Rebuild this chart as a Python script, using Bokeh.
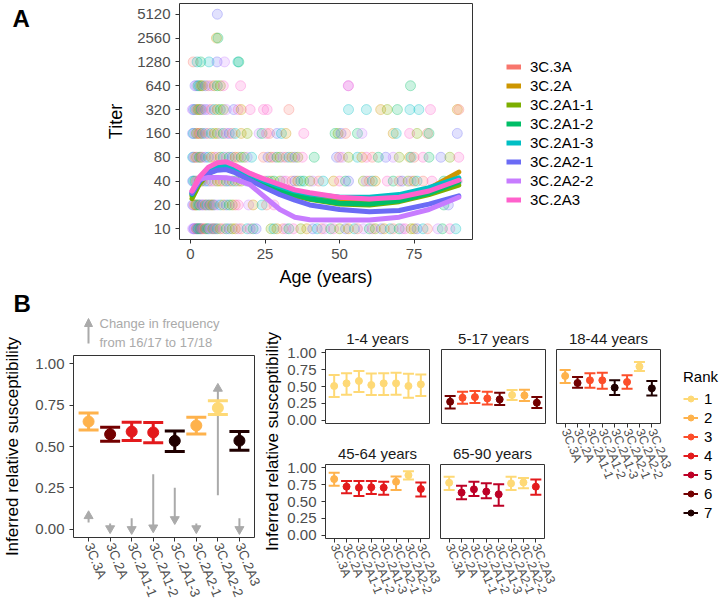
import math
from bokeh.plotting import figure
from bokeh.models import (Range1d, FactorRange, FixedTicker, NumeralTickFormatter, Legend,
                          LegendItem, Label, Arrow, NormalHead, ColumnDataSource)
from bokeh.embed import file_html
from bokeh.resources import INLINE

FONT = "Liberation Sans"

# ---------------- data ----------------
clades = ["3C.3A", "3C.2A", "3C.2A1-1", "3C.2A1-2", "3C.2A1-3", "3C.2A2-1", "3C.2A2-2", "3C.2A3"]
clade_colors = ["#F8766D", "#CD9600", "#7CAE00", "#00BE67", "#00BFC4", "#6B6BF5", "#C77CFF", "#FF61CC"]

titer_ticks = [10, 20, 40, 80, 160, 320, 640, 1280, 2560, 5120]
age_ticks = [0, 25, 50, 75]

# individual titers: ages per titer level and clade index (digits) per point
s10_age = [0.7, 1, 1.2, 1.5, 1.8, 2, 2.3, 2.6, 3, 3.3, 3.6, 4, 4.5, 5, 5.5, 6, 6.5, 7, 7.5, 8,
           8.5, 9, 10, 11, 12, 13, 14, 15, 16, 17, 19, 20, 21, 22, 27, 28, 29, 31, 32, 33,
           34.5, 37, 39, 41, 42.5, 44, 45, 47, 48, 50, 52, 53, 55, 56, 58, 60, 61, 62, 64, 65,
           67, 68, 70, 71, 72, 74, 75, 76, 78, 79.5, 83, 84.5, 87, 89]
s10_cl = "6656615342" "5071436625" "0417352160" "4735241063" "7215406372" "5140637251" "4036721540" "6374"
s20_age = [0.7, 1, 1.3, 1.7, 2, 2.5, 3, 3.5, 4, 4.5, 5, 5.5, 6, 6.5, 7, 7.5, 8, 9, 10, 11,
           12, 13, 14, 15, 16, 19.5, 21, 24, 25.5, 28, 85, 86.5]
s20_cl = "5602143756" "1473025641" "5320761407" "35"
s40_age = [0.7, 1, 1.5, 2, 2.5, 3, 3.5, 4, 5, 6, 7, 8, 9, 10, 11, 12, 13, 14, 15, 16,
           17, 19, 21, 23, 25, 26, 27, 28, 30, 31, 32, 34, 35, 36, 37, 38, 40, 41, 43, 44.5,
           48, 50, 52, 53, 58, 59, 60, 61, 62, 66, 68, 70, 71, 73, 74, 75, 76, 78, 81, 85, 89.5]
s40_cl = "5430612745" "0621735140" "2567041326" "7051432604" "1735260417" "3052614073" "6"
s80_age = [0.7, 1, 1.5, 2, 2.5, 3, 3.5, 4, 5, 6, 7, 8, 9, 10, 11, 12, 13, 14, 15, 16,
           17, 18, 19, 20.5, 24.5, 26, 27, 28, 29, 30, 31, 32, 33, 34, 35, 36, 37.5, 41.5, 49, 50,
           51, 53, 56, 57.5, 59, 61, 63, 65.5, 68, 70, 73.5, 74, 75, 78, 80, 84, 87, 90]
s80_cl = "4501632754" "1062473510" "3264051732" "6041527350" "6241703562" "14073527"
s160_age = [0.7, 1, 1.5, 2, 2.5, 3, 3.5, 4, 5, 6, 7, 8, 9, 10, 11, 12, 13, 14, 15, 17,
            19, 23, 24, 25.5, 26.5, 29, 30.5, 32, 38, 48.5, 49.5, 50.5, 52, 56, 57.5, 68, 69, 73.5, 76, 79.5,
            80, 89.5]
s160_cl = "5462017350" "4126375041" "2637054173" "2503614720" "35"
s320_age = [0.6, 1, 1.5, 2, 2.5, 3, 3.5, 4, 5, 6, 7, 8, 9, 10, 11, 12, 14.5, 16, 17, 20,
            24.5, 25.7, 33, 53, 59, 63.8, 66, 69.4, 73.6, 76.6, 80.5, 89.5, 90]
s320_cl = "6540213756" "0413265717" "7704412344" "710"
s640_age = [1.5, 2, 2.5, 3, 3.5, 4, 5, 6, 7, 8, 9, 10, 11, 16.8, 52.9, 53, 73.8]
s640_cl = "5634125061" "327" "7673"
s1280_age = [0.9, 2.2, 3.4, 6.2, 8.9, 11.4, 15.9, 16.2]
s1280_cl = "04345643"
s2560_age = [8.7, 9.2]
s2560_cl = "13"
s5120_age = [9]
s5120_cl = "5"

# smoothed fits (titer vs age) per clade
curve_ages = [0.5, 3, 6, 9, 12, 15, 20, 25, 30, 35, 40, 50, 60, 70, 80, 90]
fit_3C3A   = [29, 43, 57, 64, 66, 60, 48, 39, 33, 29, 26, 22.5, 22, 24, 29, 40]
fit_3C2A   = [26, 40, 53, 60, 62, 57, 46, 38, 32, 28, 25.5, 22, 21.5, 24, 32, 52]
fit_3C2A11 = [24, 37, 50, 57, 58, 53, 44, 36, 30, 26, 23.5, 20.5, 20, 22, 27, 35.5]
fit_3C2A12 = [27, 40, 52, 59, 60, 55, 45, 37, 31, 27, 24, 21, 20.5, 22.5, 28, 39]
fit_3C2A13 = [28, 42, 55, 62, 64, 58, 48, 40, 34, 30, 27.5, 25, 25, 27, 33, 44]
fit_3C2A21 = [28, 40, 50, 55, 56, 51, 41, 33, 27, 23, 20, 17.5, 16.4, 17, 20.5, 26]
fit_3C2A22 = [30, 42, 44.5, 44.5, 44, 42, 36, 25, 17.5, 14, 13, 12.9, 12.9, 14, 17.5, 25]
fit_3C2A3  = [30, 45, 60, 68, 70, 63, 50, 42, 36, 31, 28.5, 25, 23.7, 25, 30, 41]

# Panel B (all ages)
bl_point = [0.651, 0.574, 0.590, 0.585, 0.534, 0.627, 0.733, 0.535]
bl_lower = [0.600, 0.532, 0.536, 0.522, 0.470, 0.576, 0.693, 0.478]
bl_upper = [0.703, 0.617, 0.647, 0.645, 0.594, 0.677, 0.777, 0.590]
bl_rank = [2, 6, 4, 4, 7, 2, 1, 7]
freq_start = [0.04, 0.035, 0.066, 0.333, 0.25, 0.035, 0.205, 0.066]
freq_end = [0.08, 0.005, 0.0, 0.01, 0.06, 0.005, 0.85, 0.0]

# Panel B facets by age group
age_groups = ["1-4 years", "5-17 years", "18-44 years", "45-64 years", "65-90 years"]
f_point = [
    [0.507, 0.547, 0.582, 0.522, 0.547, 0.547, 0.507, 0.532],
    [0.274, 0.333, 0.343, 0.323, 0.308, 0.373, 0.368, 0.259],
    [0.657, 0.552, 0.592, 0.592, 0.483, 0.567, 0.796, 0.473],
    [0.833, 0.721, 0.706, 0.711, 0.706, 0.794, 0.892, 0.686],
    [0.779, 0.632, 0.681, 0.647, 0.608, 0.769, 0.784, 0.721],
]
f_lower = [
    [0.343, 0.378, 0.418, 0.373, 0.373, 0.378, 0.333, 0.358],
    [0.174, 0.244, 0.254, 0.234, 0.224, 0.300, 0.284, 0.179],
    [0.552, 0.483, 0.483, 0.468, 0.373, 0.468, 0.731, 0.368],
    [0.735, 0.623, 0.583, 0.613, 0.600, 0.672, 0.828, 0.574],
    [0.672, 0.534, 0.583, 0.549, 0.436, 0.672, 0.696, 0.600],
]
f_upper = [
    [0.670, 0.697, 0.731, 0.692, 0.697, 0.706, 0.690, 0.677],
    [0.358, 0.423, 0.433, 0.423, 0.408, 0.448, 0.453, 0.343],
    [0.746, 0.642, 0.697, 0.706, 0.592, 0.667, 0.866, 0.582],
    [0.926, 0.804, 0.804, 0.804, 0.794, 0.873, 0.950, 0.784],
    [0.868, 0.735, 0.794, 0.770, 0.755, 0.868, 0.848, 0.828],
]
f_rank = [
    [1, 1, 1, 1, 1, 1, 1, 1],
    [6, 3, 3, 3, 6, 1, 2, 6],
    [2, 6, 3, 3, 7, 3, 1, 7],
    [2, 4, 4, 4, 4, 2, 1, 4],
    [1, 5, 5, 5, 5, 1, 1, 4],
]
ranks = [1, 2, 3, 4, 5, 6, 7]
rank_colors = ["#FED976", "#FEB24C", "#FC4E2A", "#E31A1C", "#BD0026", "#730000", "#1F0000"]
susc_ticks = [0, 0.25, 0.5, 0.75, 1.0]

GRAY_TXT = "#4D4D4D"
FRAME = "#333333"
ARROW_GRAY = "#AAAAAA"
ANGLE = -68 * math.pi / 180
NAN = float("nan")


def place(left, top):
    return {"position": "absolute", "left": f"{left}px", "top": f"{top}px"}


def style(p, tick_size="15px", title_size="18px"):
    p.outline_line_color = FRAME
    p.outline_line_width = 1
    p.xgrid.visible = False
    p.ygrid.visible = False
    p.border_fill_color = None
    p.background_fill_color = "white"
    for ax in list(p.xaxis) + list(p.yaxis):
        ax.axis_line_color = None
        ax.major_tick_line_color = FRAME
        ax.major_tick_out = 4
        ax.major_tick_in = 0
        ax.minor_tick_line_color = None
        ax.major_label_text_font = FONT
        ax.major_label_text_color = GRAY_TXT
        ax.major_label_text_font_size = tick_size
        ax.axis_label_text_font = FONT
        ax.axis_label_text_font_style = "normal"
        ax.axis_label_text_font_size = title_size
        ax.axis_label_text_color = "black"


def blank(width, height, left, top):
    p = figure(width=width, height=height, output_backend="svg", toolbar_location=None,
               x_range=Range1d(0, 1), y_range=Range1d(0, 1), min_border=0, title=None,
               x_axis_location=None, y_axis_location=None, styles=place(left, top))
    p.outline_line_color = None
    p.xgrid.visible = False
    p.ygrid.visible = False
    p.border_fill_color = None
    p.background_fill_color = None
    return p


roots = []

# ---------------- Panel A ----------------
pA = figure(frame_width=293, frame_height=236, output_backend="svg", toolbar_location=None,
            x_range=Range1d(-3.7, 94.6), y_range=Range1d(10 * 2 ** -0.45, 5120 * 2 ** 0.45),
            y_axis_type="log", min_border_left=179, min_border_right=4,
            min_border_top=3, min_border_bottom=51, styles=place(0, 0))
style(pA)
pA.yaxis.ticker = FixedTicker(ticks=titer_ticks)
pA.yaxis.formatter = NumeralTickFormatter(format="0")
pA.xaxis.ticker = FixedTicker(ticks=age_ticks)
pA.xaxis.axis_label = "Age (years)"
pA.yaxis.axis_label = "Titer"
pA.yaxis.axis_label_standoff = 8
pA.xaxis.axis_label_standoff = 5

levels = [10, 20, 40, 80, 160, 320, 640, 1280, 2560, 5120]
level_ages = [s10_age, s20_age, s40_age, s80_age, s160_age, s320_age, s640_age, s1280_age, s2560_age, s5120_age]
level_cl = [s10_cl, s20_cl, s40_cl, s80_cl, s160_cl, s320_cl, s640_cl, s1280_cl, s2560_cl, s5120_cl]
pt_age, pt_titer, pt_color = [], [], []
for t, ages, cl in zip(levels, level_ages, level_cl):
    for a, c in zip(ages, cl):
        pt_age.append(a)
        pt_titer.append(t)
        pt_color.append(clade_colors[int(c)])
pA.scatter(x="age", y="titer", source=ColumnDataSource(dict(age=pt_age, titer=pt_titer, color=pt_color)),
           size=10, fill_color="color", line_color="color", fill_alpha=0.2, line_alpha=0.33)

fits = [fit_3C3A, fit_3C2A, fit_3C2A11, fit_3C2A12, fit_3C2A13, fit_3C2A21, fit_3C2A22, fit_3C2A3]
for name, col, fit in zip(clades, clade_colors, fits):
    pA.line(curve_ages, fit, line_width=5, line_color=col, line_join="round", line_cap="round")
roots.append(pA)

# legend for panel A (legend keys only; hidden NaN samples)
pAL = blank(100, 170, 495, 50)
items_A = []
for name, col in zip(clades, clade_colors):
    r = pAL.line(x=[NAN], y=[NAN], line_width=5, line_color=col)
    items_A.append(LegendItem(label=name, renderers=[r]))
pAL.add_layout(Legend(items=items_A, location=(11, 12), padding=0, margin=0, spacing=2,
                      glyph_width=15, glyph_height=15, label_height=15, label_standoff=9,
                      border_line_color=None, background_fill_alpha=0,
                      label_text_font=FONT, label_text_font_size="15px", label_text_color="black"),
               "center")
roots.append(pAL)

# panel letters
for letter, top, x, y in (("A", 0, 12, 22), ("B", 282, 13, 19)):
    pl = blank(50, 40, 0, top)
    pl.add_layout(Label(x=x, y=y, x_units="screen", y_units="screen", text=letter,
                        text_font=FONT, text_font_style="bold", text_font_size="24px",
                        text_baseline="middle", text_align="left", text_color="black"))
    roots.append(pl)


# ---------------- Panel B (overall) ----------------
def frange():
    return FactorRange(factors=clades, range_padding=0.2, range_padding_units="absolute")


def errorbars(p, pt, lo, up, rk, lw, cap, ps):
    src = ColumnDataSource(dict(cat=clades, pt=pt, lo=lo, up=up,
                                color=[rank_colors[ranks.index(k)] for k in rk]))
    p.segment(x0="cat", y0="lo", x1="cat", y1="up", source=src, line_color="color", line_width=lw)
    p.scatter(x="cat", y="up", marker="dash", size=cap, source=src, line_color="color", line_width=lw)
    p.scatter(x="cat", y="lo", marker="dash", size=cap, source=src, line_color="color", line_width=lw)
    p.scatter(x="cat", y="pt", size=ps, source=src, fill_color="color", line_color="color")


pB = figure(frame_width=181, frame_height=182, output_backend="svg", toolbar_location=None,
            x_range=frange(), y_range=Range1d(-0.05, 1.05),
            min_border_left=67, min_border_right=12, min_border_top=65, min_border_bottom=61,
            styles=place(0, 290))
style(pB, tick_size="15px", title_size="17px")
pB.yaxis.ticker = FixedTicker(ticks=susc_ticks)
pB.yaxis.formatter = NumeralTickFormatter(format="0.00")
pB.yaxis.axis_label = "Inferred relative susceptibility"
pB.yaxis.axis_label_standoff = 10
pB.xaxis.major_label_orientation = ANGLE
pB.xaxis.major_label_text_font_size = "13.5px"
pB.xaxis.major_label_standoff = 2

marker_dir = ["triangle" if e > s else "inverted_triangle" for s, e in zip(freq_start, freq_end)]
src_f = ColumnDataSource(dict(cat=clades, s=freq_start, e=freq_end, m=marker_dir))
pB.segment(x0="cat", y0="s", x1="cat", y1="e", source=src_f, line_color=ARROW_GRAY, line_width=2)
pB.scatter(x="cat", y="e", marker="m", source=src_f, size=9, fill_color=ARROW_GRAY, line_color=ARROW_GRAY)
errorbars(pB, bl_point, bl_lower, bl_upper, bl_rank, 3, 20, 11)
roots.append(pB)

# "Change in frequency" key
pK = blank(160, 38, 80, 312)
pK.add_layout(Arrow(end=NormalHead(size=8, fill_color=ARROW_GRAY, line_color=ARROW_GRAY),
                    x_start=8, y_start=7, x_end=8, y_end=32,
                    start_units="screen", end_units="screen",
                    line_color=ARROW_GRAY, line_width=2))
for txt, yy in (("Change in frequency", 27), ("from 16/17 to 17/18", 8)):
    pK.add_layout(Label(x=19, y=yy, x_units="screen", y_units="screen", text=txt,
                        text_font=FONT, text_font_size="13px", text_color=ARROW_GRAY,
                        text_baseline="middle", text_align="left"))
roots.append(pK)

# shared y label for facets
pY = blank(20, 240, 262, 320)
pY.add_layout(Label(x=10, y=119, x_units="screen", y_units="screen", angle=math.pi / 2,
                    text="Inferred relative susceptibility", text_font=FONT, text_font_size="17px",
                    text_color="black", text_align="center", text_baseline="middle"))
roots.append(pY)


# ---------------- facets ----------------
def facet(i, left, top, bl, br, bt, bb, show_y, show_x):
    p = figure(frame_width=104, frame_height=74, output_backend="svg", toolbar_location=None,
               x_range=frange(), y_range=Range1d(-0.05, 1.05), title=age_groups[i],
               min_border_left=bl, min_border_right=br, min_border_top=bt, min_border_bottom=bb,
               styles=place(left, top))
    style(p, tick_size="15px")
    p.title.text_font = FONT
    p.title.text_font_size = "15px"
    p.title.text_font_style = "normal"
    p.title.text_color = "#1A1A1A"
    p.title.align = "center"
    p.title.standoff = 6
    p.yaxis.ticker = FixedTicker(ticks=susc_ticks)
    p.yaxis.formatter = NumeralTickFormatter(format="0.00")
    p.xaxis.major_label_orientation = ANGLE
    p.xaxis.major_label_text_font_size = "12.5px"
    p.xaxis.major_label_standoff = 2
    p.yaxis.visible = show_y
    p.xaxis.visible = show_x
    errorbars(p, f_point[i], f_lower[i], f_upper[i], f_rank[i], 2, 11, 7)
    return p


roots.append(facet(0, 280, 290, 45, 2, 59, 10, True, False))
roots.append(facet(1, 435, 290, 6, 2, 59, 10, False, False))
roots.append(facet(2, 550, 290, 6, 22, 59, 70, False, True))
roots.append(facet(3, 280, 437, 45, 22, 27, 60, True, True))
roots.append(facet(4, 434, 437, 6, 22, 27, 60, False, True))

# rank legend (legend keys only; hidden NaN samples)
pL = blank(50, 170, 670, 360)
items_R = []
for k, c in zip(ranks, rank_colors):
    rl = pL.line(x=[NAN], y=[NAN], line_color=c, line_width=2)
    rp = pL.scatter(x=[NAN], y=[NAN], size=7, fill_color=c, line_color=c)
    items_R.append(LegendItem(label=str(k), renderers=[rl, rp]))
pL.add_layout(Legend(items=items_R, location=(13, 9), padding=0, margin=0, spacing=2,
                     glyph_width=15, glyph_height=15, label_height=15, label_standoff=6,
                     title="Rank", title_text_font=FONT, title_text_font_size="15px",
                     title_text_font_style="normal", title_text_color="black", title_standoff=5,
                     border_line_color=None, background_fill_alpha=0,
                     label_text_font=FONT, label_text_font_size="15px", label_text_color="black"),
              "center")
roots.append(pL)

with open("out.html", "w") as f:
    f.write(file_html(roots, INLINE))
